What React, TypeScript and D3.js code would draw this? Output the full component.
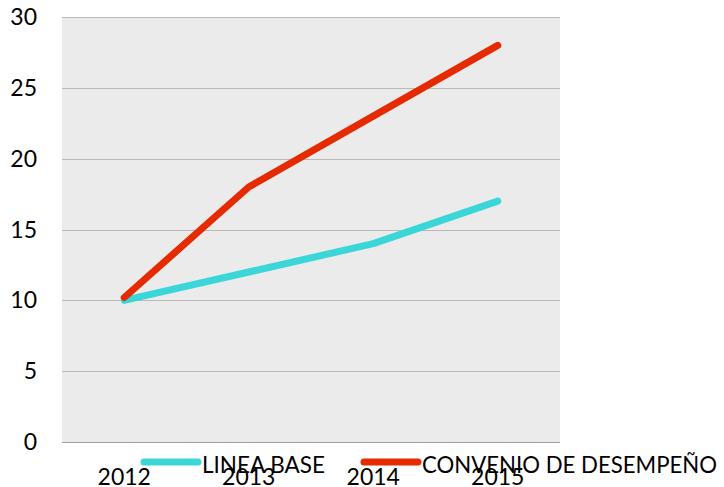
import React, { useRef, useEffect } from 'react';
import * as d3 from 'd3';

const years = ['2012', '2013', '2014', '2015'];
const lineaBase = [10, 12, 14, 17];
const convenio = [10.2, 18, 23, 28];
const yTicks = [0, 5, 10, 15, 20, 25, 30];
const seriesNames = ['LINEA BASE', 'CONVENIO DE DESEMPEÑO'];
const seriesColors = ['#3BD6D8', '#E62A00'];

const width = 724;
const height = 487;
const margin = { top: 17, right: 164, bottom: 45, left: 62 };
const font = 'Lato, "Open Sans", sans-serif';

const App = () => {
  const ref = useRef<SVGSVGElement>(null);

  useEffect(() => {
    const svg = d3.select(ref.current);
    svg.selectAll('*').remove();

    const x = d3.scaleBand().domain(years).range([margin.left, width - margin.right]);
    const y = d3.scaleLinear().domain([0, 30]).range([height - margin.bottom, margin.top]);

    // plot background
    svg.append('rect')
      .attr('x', margin.left)
      .attr('y', margin.top)
      .attr('width', width - margin.left - margin.right)
      .attr('height', height - margin.top - margin.bottom)
      .attr('fill', '#ebebeb');

    // gridlines
    svg.append('g')
      .selectAll('line')
      .data(yTicks)
      .join('line')
      .attr('x1', margin.left)
      .attr('x2', width - margin.right)
      .attr('y1', d => Math.round(y(d)) + 0.5)
      .attr('y2', d => Math.round(y(d)) + 0.5)
      .attr('stroke', d => (d === 0 ? '#a0a0a0' : '#b9b9b9'))
      .attr('stroke-width', 1.2);

    // y labels
    svg.append('g')
      .selectAll('text')
      .data(yTicks)
      .join('text')
      .attr('x', 37)
      .attr('y', d => y(d))
      .attr('dy', '0.35em')
      .attr('text-anchor', 'end')
      .attr('font-family', font)
      .attr('font-size', 23)
      .attr('fill', '#000')
      .text(d => d);

    // x labels
    svg.append('g')
      .selectAll('text')
      .data(years)
      .join('text')
      .attr('x', d => x(d)! + x.bandwidth() / 2)
      .attr('y', 485)
      .attr('text-anchor', 'middle')
      .attr('font-family', font)
      .attr('font-size', 23)
      .attr('fill', '#000')
      .text(d => d);

    const lineGen = d3.line<number>()
      .x((d, i) => x(years[i])! + x.bandwidth() / 2)
      .y(d => y(d));

    [lineaBase, convenio].forEach((s, i) => {
      svg.append('path')
        .datum(s)
        .attr('d', lineGen)
        .attr('fill', 'none')
        .attr('stroke', seriesColors[i])
        .attr('stroke-width', 7)
        .attr('stroke-linecap', 'round')
        .attr('stroke-linejoin', 'round');
    });

    // legend
    const legendX = [142, 362];
    const legendW = [123, 295];
    const legend = svg.append('g')
      .selectAll('g')
      .data(seriesNames)
      .join('g')
      .attr('transform', (d, i) => `translate(${legendX[i]},462)`);
    legend.append('line')
      .attr('x1', 2)
      .attr('x2', 56)
      .attr('stroke', (d, i) => seriesColors[i])
      .attr('stroke-width', 7)
      .attr('stroke-linecap', 'round');
    legend.append('text')
      .attr('x', 60)
      .attr('y', 11)
      .attr('font-family', font)
      .attr('font-size', 23)
      .attr('fill', '#000')
      .attr('textLength', (d, i) => legendW[i])
      .attr('lengthAdjust', 'spacingAndGlyphs')
      .text(d => d);
  }, []);

  return (
    <svg
      ref={ref}
      width={width}
      height={height}
      style={{ position: 'absolute', left: 0, top: 0, background: '#fff' }}
    />
  );
};

export default App;
